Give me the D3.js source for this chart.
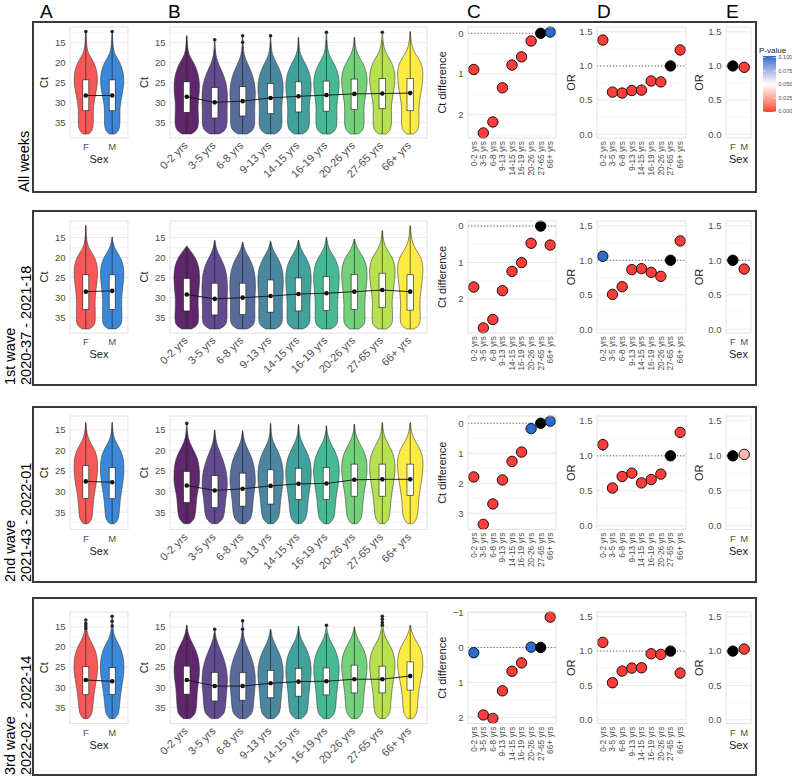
<!DOCTYPE html>
<html><head><meta charset="utf-8">
<script src="https://cdn.jsdelivr.net/npm/d3@7"></script>
<style>body{margin:0;background:#fff}svg{display:block}text{font-family:"Liberation Sans",Arial,sans-serif}</style>
</head><body><svg id="c" width="792" height="778"></svg>
<script>
// ---------------- DATA ----------------
const ageGroups=["0-2 yrs","3-5 yrs","6-8 yrs","9-13 yrs","14-15 yrs","16-19 yrs","20-26 yrs","27-65 yrs","66+ yrs"];
const sexGroups=["F","M"];
const panelLetters=["A","B","C","D","E"];
const rowTitles=[["All weeks"],["1st wave","2020-37 - 2021-18"],["2nd wave","2021-43 - 2022-01"],["3rd wave","2022-02 - 2022-14"]];
const ctTicks=[15,20,25,30,35];
const ctMinor=[12.5,17.5,22.5,27.5,32.5,37.5];
const orTicks=[0,0.5,1,1.5];
const orMinor=[0.25,0.75,1.25];
const ctDiffTicks=[[0,1,2],[0,1,2],[0,1,2,3],[-1,0,1,2]];
const pLegendTicks=[0,0.025,0.05,0.075,0.1];
const ctMax=37.8;
const violinGrid=[16,18,20,22,24,26,28,30,32,34,36,37,37.8];

// age violins / boxes (per row, per age group)
const ageQ1=[[24.8,26.2,26.0,25.2,24.8,24.6,24.1,24.0,23.9],[25.2,26.4,26.4,25.6,25.1,24.7,24.2,23.9,24.3],[25.1,26.1,25.5,24.7,24.3,24.1,23.3,23.3,23.3],[24.75,26.3,26.4,25.8,25.3,25.2,24.5,24.75,23.7]];
const ageQ3=[[32.4,33.8,33.3,32.7,32.3,32.1,31.7,31.5,32.0],[33.3,34.3,34.2,33.6,33.3,33.2,32.9,32.5,33.1],[32.6,33.9,33.5,33.0,31.9,31.9,31.1,31.1,30.9],[31.7,33.4,33.2,32.6,32.2,31.9,31.4,31.4,30.7]];
const ageMean=[[28.5,29.9,29.6,28.8,28.4,28.1,27.8,27.7,27.6],[29.2,30.3,30.0,29.6,29.1,28.9,28.5,28.1,28.5],[28.5,29.7,29.3,28.6,28.1,28.0,27.1,27.0,27.0],[28.2,29.7,29.7,29.0,28.6,28.5,28.0,28.0,27.2]];
const ageTop=[[13.3,16.8,16.0,15.2,13.7,14.3,13.7,14.6,12.25],[17.2,15.7,16.2,16.0,15.7,15.0,15.4,13.3,12.1],[15.2,15.0,15.2,13.4,13.7,14.0,13.6,13.2,13.2],[14.6,16.6,16.4,15.6,14.9,16.6,15.0,15.6,14.6]];
const ageOutliers=[[[],[14.3],[13.3,14.9],[13.3],[],[12.4],[],[12.4],[]],[[],[],[],[],[],[],[],[],[]],[[13.4],[],[],[],[],[],[],[],[]],[[],[15.6],[13.5,15.6],[],[],[14.6],[],[12.35,13.1,13.9,14.6],[]]];
const ageViolin=[
 [[0.06,0.15,0.55,0.82,0.96,1.00,0.96,0.88,0.88,0.92,0.90,0.75,0.35],
  [0.04,0.08,0.25,0.55,0.80,0.94,1.00,0.98,0.96,0.98,0.95,0.80,0.35],
  [0.05,0.10,0.35,0.65,0.86,0.97,1.00,0.95,0.93,0.95,0.93,0.78,0.35],
  [0.05,0.12,0.45,0.75,0.93,1.00,0.96,0.88,0.86,0.90,0.88,0.74,0.33],
  [0.05,0.14,0.50,0.80,0.96,1.00,0.94,0.85,0.83,0.86,0.84,0.70,0.32],
  [0.06,0.18,0.55,0.85,0.98,1.00,0.92,0.82,0.80,0.83,0.80,0.68,0.30],
  [0.07,0.25,0.65,0.92,1.00,0.98,0.88,0.77,0.74,0.77,0.75,0.63,0.30],
  [0.08,0.35,0.75,0.95,1.00,0.95,0.84,0.72,0.70,0.72,0.70,0.60,0.28],
  [0.10,0.45,0.85,1.00,0.98,0.92,0.80,0.70,0.66,0.68,0.67,0.57,0.27]],
 [[0.02,0.20,0.68,0.92,1.00,1.00,0.95,0.88,0.88,0.92,0.92,0.80,0.38],
  [0.04,0.12,0.45,0.75,0.92,0.98,1.00,0.98,0.95,0.97,0.96,0.82,0.38],
  [0.04,0.14,0.50,0.80,0.94,1.00,1.00,0.96,0.94,0.96,0.95,0.82,0.38],
  [0.04,0.16,0.55,0.85,0.97,1.00,0.97,0.92,0.90,0.93,0.92,0.80,0.36],
  [0.05,0.18,0.60,0.88,0.98,1.00,0.95,0.90,0.88,0.90,0.90,0.78,0.35],
  [0.06,0.20,0.65,0.90,1.00,1.00,0.94,0.88,0.86,0.88,0.88,0.76,0.35],
  [0.06,0.25,0.72,0.95,1.00,0.97,0.90,0.83,0.80,0.83,0.83,0.72,0.33],
  [0.08,0.35,0.80,0.98,1.00,0.95,0.86,0.78,0.76,0.80,0.80,0.70,0.32],
  [0.10,0.45,0.85,1.00,0.98,0.92,0.83,0.76,0.74,0.78,0.78,0.68,0.30]],
 [[0.05,0.20,0.55,0.85,0.97,1.00,1.00,0.85,0.75,0.72,0.65,0.50,0.22],
  [0.04,0.12,0.35,0.62,0.82,0.95,1.00,0.95,0.85,0.80,0.72,0.55,0.22],
  [0.04,0.15,0.45,0.75,0.90,0.98,1.00,0.90,0.82,0.78,0.70,0.53,0.22],
  [0.05,0.20,0.55,0.82,0.95,1.00,0.97,0.87,0.78,0.74,0.67,0.50,0.22],
  [0.06,0.25,0.60,0.87,0.98,1.00,0.95,0.84,0.75,0.70,0.63,0.48,0.20],
  [0.06,0.28,0.65,0.90,1.00,1.00,0.93,0.82,0.72,0.68,0.62,0.47,0.20],
  [0.08,0.35,0.72,0.95,1.00,0.97,0.88,0.77,0.68,0.64,0.58,0.45,0.20],
  [0.08,0.38,0.75,0.96,1.00,0.96,0.87,0.76,0.67,0.63,0.57,0.44,0.20],
  [0.10,0.45,0.82,1.00,1.00,0.94,0.84,0.74,0.65,0.62,0.56,0.43,0.20]],
 [[0.06,0.25,0.60,0.85,0.97,1.00,0.95,0.85,0.80,0.78,0.72,0.58,0.25],
  [0.03,0.10,0.35,0.62,0.82,0.95,1.00,0.97,0.90,0.87,0.80,0.62,0.25],
  [0.04,0.10,0.35,0.62,0.82,0.95,1.00,0.97,0.90,0.86,0.80,0.62,0.25],
  [0.04,0.14,0.45,0.75,0.92,1.00,0.98,0.90,0.84,0.80,0.74,0.58,0.24],
  [0.05,0.18,0.55,0.82,0.96,1.00,0.95,0.86,0.80,0.76,0.70,0.55,0.23],
  [0.05,0.20,0.58,0.85,0.97,1.00,0.94,0.85,0.78,0.75,0.68,0.54,0.23],
  [0.06,0.25,0.65,0.90,1.00,0.98,0.90,0.80,0.73,0.70,0.64,0.50,0.22],
  [0.07,0.28,0.68,0.92,1.00,0.97,0.88,0.78,0.70,0.67,0.62,0.48,0.22],
  [0.08,0.35,0.75,0.95,1.00,0.95,0.83,0.70,0.62,0.58,0.54,0.42,0.20]]
];

// sex violins / boxes
const sexQ1=[[24.3,24.3],[24.3,24.3],[23.7,24.1],[24.9,25.1]];
const sexQ3=[[32.0,32.0],[32.9,32.9],[31.6,31.7],[31.8,31.8]];
const sexMean=[[28.2,28.2],[28.5,28.3],[27.5,27.7],[28.2,28.5]];
const sexTop=[[12.8,12.8],[12.0,14.9],[13.2,13.2],[15.6,15.6]];
const sexOutliers=[[[12.25],[12.25]],[[],[]],[[],[]],[[13.3,14.2,14.8,15.4],[12.35,13.6,14.8]]];
const sexViolin=[
 [[0.06,0.25,0.72,0.92,1.00,0.95,0.82,0.68,0.62,0.64,0.62,0.52,0.25],[0.06,0.22,0.68,0.90,1.00,0.96,0.84,0.70,0.64,0.66,0.64,0.54,0.25]],
 [[0.05,0.30,0.78,0.96,1.00,0.95,0.85,0.78,0.78,0.80,0.80,0.70,0.30],[0.04,0.25,0.72,0.95,1.00,0.96,0.87,0.80,0.80,0.82,0.82,0.72,0.30]],
 [[0.08,0.35,0.80,0.97,1.00,0.97,0.88,0.75,0.65,0.60,0.55,0.45,0.20],[0.06,0.30,0.75,0.95,1.00,0.98,0.90,0.78,0.67,0.62,0.57,0.47,0.20]],
 [[0.06,0.30,0.70,0.92,1.00,1.00,0.90,0.78,0.68,0.62,0.55,0.45,0.20],[0.06,0.28,0.68,0.90,1.00,1.00,0.92,0.80,0.70,0.64,0.57,0.46,0.20]]
];

// C: Ct difference vs reference (27-65 yrs); null p = reference
const ctDiff=[[0.89,2.45,2.18,1.34,0.78,0.58,0.19,0,-0.03],[1.67,2.79,2.56,1.77,1.24,1.0,0.47,0,0.52],[1.79,3.37,2.69,1.89,1.27,0.96,0.18,0,-0.07],[0.15,1.93,2.03,1.24,0.68,0.44,-0.01,0,-0.87]];
const ctDiffP=[[0.001,0.001,0.001,0.001,0.001,0.001,0.001,null,0.1],[0.001,0.001,0.001,0.001,0.001,0.001,0.001,null,0.001],[0.001,0.001,0.001,0.001,0.001,0.001,0.1,null,0.1],[0.1,0.001,0.001,0.001,0.001,0.001,0.1,null,0.001]];
// D: odds ratios by age
const orAge=[[1.379,0.617,0.603,0.64,0.646,0.78,0.766,1,1.234],[1.058,0.505,0.617,0.865,0.879,0.825,0.767,1,1.281],[1.16,0.539,0.704,0.752,0.612,0.66,0.738,1,1.335],[1.127,0.539,0.709,0.753,0.757,0.961,0.952,1,0.68]];
const orAgeP=[[0.001,0.001,0.001,0.001,0.001,0.001,0.001,null,0.001],[0.1,0.001,0.001,0.001,0.001,0.001,0.001,null,0.001],[0.001,0.001,0.001,0.001,0.001,0.001,0.001,null,0.001],[0.001,0.001,0.001,0.001,0.001,0.001,0.001,null,0.001]];
const orAgeCI=[[],[],[[0,1.07,1.24]],[]];
// E: odds ratios by sex (F reference)
const orSex=[[1,0.98],[1,0.873],[1,1.02],[1,1.03]];
const orSexP=[[null,0.001],[null,0.001],[null,0.03],[null,0.001]];

// ---------------- STYLE / LAYOUT ----------------
const ageColors=["#440154","#472D7B","#3B528B","#2C728E","#21908C","#27AD81","#5DC863","#AADC32","#FDE725"];
const sexColors=["#F95858","#3C88D8"];
const rowBox=[[22,192],[211,385],[407,582],[598,775]];
const rowPanel=[[27,138],[221,333],[416,529.5],[612,723.5]];
const boxX=[33,756];
const colA=[70,128],colB=[170,427],colC=[468,556],colD=[597,686],colE=[726,751];
const ctDomains=[[11.1,38.8],[10.9,38.8],[11.6,39.2],[11.3,39.0]];
const orDomain=[-0.055,1.57];
const tickCol="#4d4d4d";

const svg=d3.select("#c");
svg.append("rect").attr("width",792).attr("height",778).attr("fill","#fff");
const pColor=d3.scaleLinear().domain([0,0.05,0.1]).range(["#FF3636","#FFFFFF","#2A6BCC"]).interpolate(d3.interpolateLab).clamp(true);

function frame(x0,x1,pt,pb,y,majors,minors,fmt){
  const g=svg.append("g");
  const [d0,d1]=d3.extent(y.domain());
  minors.filter(v=>v>=d0&&v<=d1).forEach(v=>g.append("line").attr("x1",x0).attr("x2",x1).attr("y1",y(v)).attr("y2",y(v)).attr("stroke","#f2f2f2").attr("stroke-width",0.6));
  majors.forEach(v=>{
    g.append("line").attr("x1",x0).attr("x2",x1).attr("y1",y(v)).attr("y2",y(v)).attr("stroke","#e4e4e4").attr("stroke-width",0.8);
    g.append("text").attr("x",x0-4.5).attr("y",y(v)).attr("dy","0.35em").attr("text-anchor","end").attr("font-size",9.5).attr("fill",tickCol).text(fmt(v));
  });
  return g;
}
function border(x0,x1,pt,pb){
  svg.append("rect").attr("x",x0).attr("y",pt).attr("width",x1-x0).attr("height",pb-pt).attr("fill","none").attr("stroke","#dcdcdc").attr("stroke-width",0.8);
}
function yTitle(x,pt,pb,s){
  svg.append("text").attr("transform",`translate(${x},${(pt+pb)/2})rotate(-90)`).attr("text-anchor","middle").attr("font-size",11).attr("fill","#1a1a1a").text(s);
}
function violinSet(groups,xs,hw,y,Q1,Q3,M,Top,Out,V,colors,opacity,bw){
  const g=svg.append("g");
  groups.forEach((grp,i)=>{
    const cx=xs(grp);
    const top=Math.min(Top[i],...(Out[i].length?Out[i]:[Top[i]]));
    const pts=[[top,0.02]];
    violinGrid.forEach((c,k)=>{if(c>top+0.4)pts.push([c,V[i][k]]);});
    const a=d3.area().curve(d3.curveBasis).y(d=>y(d[0])).x0(d=>cx-d[1]*hw).x1(d=>cx+d[1]*hw);
    g.append("path").attr("d",a(pts)).attr("fill",colors[i]).attr("fill-opacity",opacity).attr("stroke","#333").attr("stroke-width",0.55);
  });
  groups.forEach((grp,i)=>{
    const cx=xs(grp);
    g.append("line").attr("x1",cx).attr("x2",cx).attr("y1",y(Top[i])).attr("y2",y(ctMax)).attr("stroke","#1a1a1a").attr("stroke-width",0.6);
    g.append("rect").attr("x",cx-bw/2).attr("y",y(Q1[i])).attr("width",bw).attr("height",y(Q3[i])-y(Q1[i])).attr("fill","#fff").attr("stroke","#1a1a1a").attr("stroke-width",0.6);
    Out[i].forEach(o=>g.append("circle").attr("cx",cx).attr("cy",y(o)).attr("r",1.8).attr("fill","#262626"));
  });
  const line=d3.line().x((d,i)=>xs(groups[i])).y(d=>y(d));
  g.append("path").attr("d",line(M)).attr("fill","none").attr("stroke","#111").attr("stroke-width",0.9);
  M.forEach((m,i)=>g.append("circle").attr("cx",xs(groups[i])).attr("cy",y(m)).attr("r",2.3).attr("fill","#111"));
}
function dots(groups,xs,y,vals,ps,refVal,x0,x1){
  svg.append("line").attr("x1",x0).attr("x2",x1).attr("y1",y(refVal)).attr("y2",y(refVal)).attr("stroke","#444").attr("stroke-width",0.9).attr("stroke-dasharray","1,2.2");
  groups.forEach((grp,i)=>{
    svg.append("circle").attr("cx",xs(grp)).attr("cy",y(vals[i])).attr("r",5.2)
      .attr("fill",ps[i]===null?"#000":pColor(ps[i])).attr("stroke","#000").attr("stroke-width",0.9);
  });
}
function vertLabels(groups,xs,pb){
  groups.forEach(grp=>svg.append("text").attr("transform",`translate(${xs(grp)},${pb+3})rotate(-90)`).attr("text-anchor","end").attr("dy","0.35em").attr("font-size",8.3).attr("fill",tickCol).text(grp));
}
const f1=d3.format(".1f"), fd=d3.format("d");

// panel letters
const letterX=[40,168,467,597,726];
panelLetters.forEach((L,i)=>svg.append("text").attr("x",letterX[i]).attr("y",17.5).attr("font-size",19).attr("fill","#000").text(L));

for(let r=0;r<4;r++){
  const [bt,bb]=rowBox[r],[pt,pb]=rowPanel[r];
  svg.append("rect").attr("x",boxX[0]).attr("y",bt).attr("width",boxX[1]-boxX[0]).attr("height",bb-bt).attr("fill","none").attr("stroke","#3a3a3a").attr("stroke-width",2);
  const tl=rowTitles[r], txs=tl.length===1?[28.5]:[14.5,30.5];
  tl.forEach((s,i)=>svg.append("text").attr("transform",`translate(${txs[i]},${bb})rotate(-90)`).attr("font-size",14.5).attr("fill","#000").text(s));

  const yCt=d3.scaleLinear().domain(ctDomains[r]).range([pt,pb]);
  // ---- A ----
  const xA=d3.scalePoint().domain(sexGroups).range(colA).padding(0.6);
  frame(colA[0],colA[1],pt,pb,yCt,ctTicks,ctMinor,fd);
  violinSet(sexGroups,xA,0.45*xA.step(),yCt,sexQ1[r],sexQ3[r],sexMean[r],sexTop[r],sexOutliers[r],sexViolin[r],sexColors,1,6);
  border(colA[0],colA[1],pt,pb);
  sexGroups.forEach(s=>svg.append("text").attr("x",xA(s)).attr("y",pb+12).attr("text-anchor","middle").attr("font-size",9.5).attr("fill",tickCol).text(s));
  svg.append("text").attr("x",(colA[0]+colA[1])/2).attr("y",pb+25).attr("text-anchor","middle").attr("font-size",11).attr("fill","#1a1a1a").text("Sex");
  yTitle(47.5,pt,pb,"Ct");
  // ---- B ----
  const xB=d3.scalePoint().domain(ageGroups).range(colB).padding(0.6);
  frame(colB[0],colB[1],pt,pb,yCt,ctTicks,ctMinor,fd);
  violinSet(ageGroups,xB,0.46*xB.step(),yCt,ageQ1[r],ageQ3[r],ageMean[r],ageTop[r],ageOutliers[r],ageViolin[r],ageColors,0.85,6.5);
  border(colB[0],colB[1],pt,pb);
  ageGroups.forEach(a=>svg.append("text").attr("transform",`translate(${xB(a)-4},${pb+2.5})rotate(-45)`).attr("text-anchor","end").attr("dy","0.72em").attr("font-size",11).attr("fill",tickCol).text(a));
  yTitle(148,pt,pb,"Ct");
  // ---- C ----
  const ext=d3.extent(ctDiff[r]), pad=(ext[1]-ext[0])*0.05;
  const yC=d3.scaleLinear().domain([ext[0]-pad,ext[1]+pad]).range([pt,pb]);
  const xC=d3.scalePoint().domain(ageGroups).range(colC).padding(0.6);
  const cMinor=d3.range(-1.5,4,1);
  frame(colC[0],colC[1],pt,pb,yC,ctDiffTicks[r],cMinor,fd);
  dots(ageGroups,xC,yC,ctDiff[r],ctDiffP[r],0,colC[0],colC[1]);
  border(colC[0],colC[1],pt,pb);
  vertLabels(ageGroups,xC,pb);
  yTitle(446,pt,pb,"Ct difference");
  // ---- D ----
  const yO=d3.scaleLinear().domain(orDomain).range([pb,pt]);
  const xD=d3.scalePoint().domain(ageGroups).range(colD).padding(0.6);
  frame(colD[0],colD[1],pt,pb,yO,orTicks,orMinor,f1);
  orAgeCI[r].forEach(([i,lo,hi])=>svg.append("line").attr("x1",xD(ageGroups[i])).attr("x2",xD(ageGroups[i])).attr("y1",yO(lo)).attr("y2",yO(hi)).attr("stroke","#000").attr("stroke-width",1.2));
  dots(ageGroups,xD,yO,orAge[r],orAgeP[r],1,colD[0],colD[1]);
  border(colD[0],colD[1],pt,pb);
  vertLabels(ageGroups,xD,pb);
  yTitle(575,pt,pb,"OR");
  // ---- E ----
  const xE=d3.scalePoint().domain(sexGroups).range(colE).padding(0.6);
  frame(colE[0],colE[1],pt,pb,yO,orTicks,orMinor,f1);
  dots(sexGroups,xE,yO,orSex[r],orSexP[r],1,colE[0],colE[1]);
  border(colE[0],colE[1],pt,pb);
  sexGroups.forEach(s=>svg.append("text").attr("x",xE(s)).attr("y",pb+12).attr("text-anchor","middle").attr("font-size",9.5).attr("fill",tickCol).text(s));
  svg.append("text").attr("x",(colE[0]+colE[1])/2).attr("y",pb+25).attr("text-anchor","middle").attr("font-size",11).attr("fill","#1a1a1a").text("Sex");
  yTitle(703,pt,pb,"OR");
}

// ---- legend ----
const defs=svg.append("defs");
const grad=defs.append("linearGradient").attr("id","pgrad").attr("x1",0).attr("y1",1).attr("x2",0).attr("y2",0);
d3.range(0,21).forEach(k=>grad.append("stop").attr("offset",k/20).attr("stop-color",pColor(k/20*0.1)));
const legY=d3.scaleLinear().domain([0,0.1]).range([111.5,57.5]);
svg.append("text").attr("x",759).attr("y",52.5).attr("font-size",8).attr("fill","#1a1a1a").text("P-value");
svg.append("rect").attr("x",763).attr("y",56).attr("width",13).attr("height",56).attr("fill","url(#pgrad)");
pLegendTicks.forEach(v=>{
  svg.append("line").attr("x1",763).attr("x2",765.6).attr("y1",legY(v)).attr("y2",legY(v)).attr("stroke","#fff").attr("stroke-width",0.5);
  svg.append("line").attr("x1",773.4).attr("x2",776).attr("y1",legY(v)).attr("y2",legY(v)).attr("stroke","#fff").attr("stroke-width",0.5);
  svg.append("text").attr("x",778.5).attr("y",legY(v)).attr("dy","0.35em").attr("font-size",5.5).attr("fill",tickCol).text(d3.format(".3f")(v));
});
</script></body></html>
